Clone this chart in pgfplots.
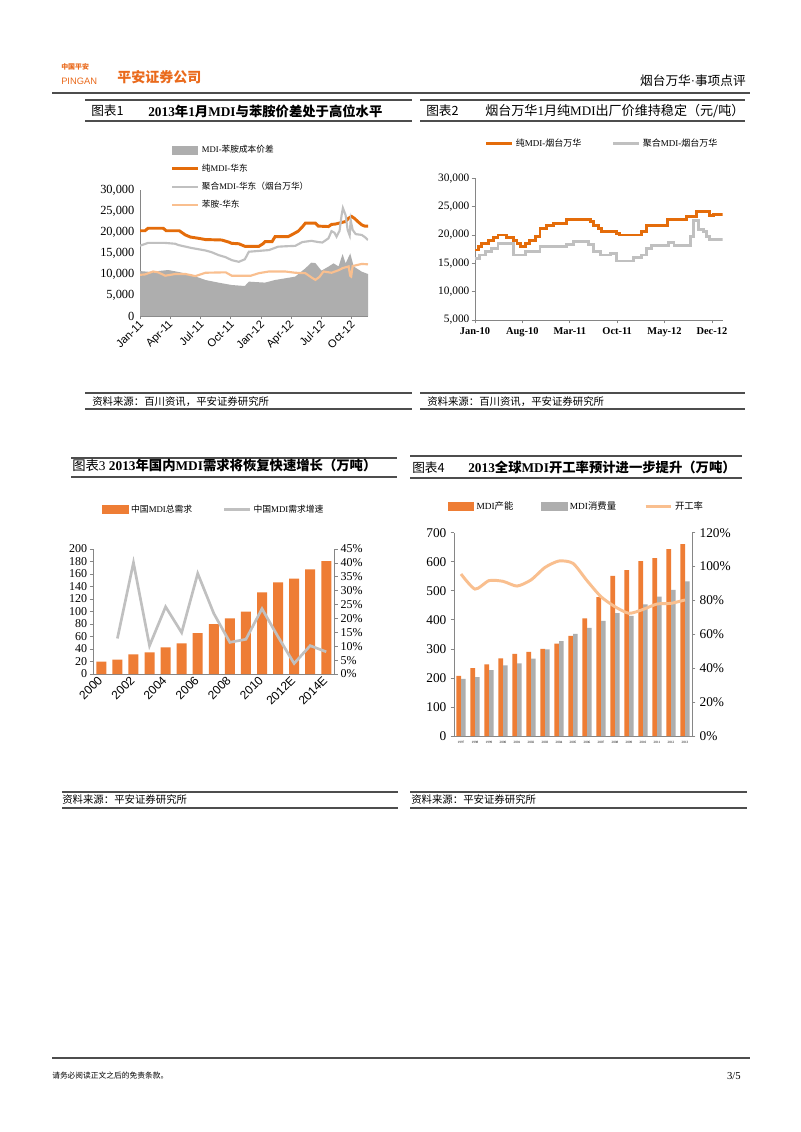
\documentclass[border=0pt]{standalone}
\usepackage{fontspec}
\setmainfont{Liberation Serif}
\setsansfont{Liberation Sans}
\newfontfamily\cjk{Noto Sans CJK SC}
\newcommand{\zh}[1]{{\cjk #1}}
\newcommand{\fs}[1]{\fontsize{#1}{#1}\selectfont}
\usepackage{pgfplots}
\pgfplotsset{compat=1.18}
\definecolor{pa}{HTML}{E46C0A}
\definecolor{ga}{HTML}{AEAEAE}
\definecolor{gl}{HTML}{C0C0C0}
\definecolor{pe}{HTML}{F9BF8F}
\definecolor{bo}{HTML}{EE7D35}
\definecolor{logo}{HTML}{EA6A1C}
\definecolor{ax}{HTML}{868686}
\definecolor{rl}{HTML}{4D4D4D}
\pgfplotsset{
  every axis/.append style={
    scale only axis, anchor=south west,
    /pgf/number format/assume math mode=true,
    /pgf/number format/1000 sep={,},
    scaled y ticks=false,
    axis line style={ax}, tick style={ax, line width=0.5pt},
    tick align=outside, major tick length=2.5pt,
    legend style={draw=none, fill=none, inner sep=0pt, outer sep=0pt,
      anchor=north west, legend cell align=left},
    legend image code/.code={\draw[#1] (0pt,0pt) -- (19pt,0pt);},
  },
}
\begin{document}
\begin{tikzpicture}
\begin{scope}[x=0.75pt,y=-0.75pt]
\fill[white] (0,0) rectangle (800,1132);
% header
\node[anchor=west, inner sep=0pt, text=logo, font=\cjk\bfseries\fs{5.2}] at (61,67) {中国平安};
\node[anchor=west, inner sep=0pt, text=logo, font=\sffamily\fs{7}] at (61,81) {PINGAN};
\node[anchor=west, inner sep=0pt, text=logo, font=\cjk\bfseries\fs{10.5}] at (117,77) {平安证券公司};
\node[anchor=east, inner sep=0pt, font=\cjk\fs{9.5}] at (746,81) {烟台万华{\rmfamily ·}事项点评};
\draw[rl, line width=1.5pt] (52,92.5) -- (750,92.5);
% chart 1 frame
\draw[rl, line width=1pt] (85,100) -- (412,100);
\draw[rl, line width=1.2pt] (85,121) -- (412,121);
\node[anchor=west, inner sep=0pt, font=\cjk\fs{9.5}] at (91,111) {图表1};
\node[anchor=west, inner sep=0pt, font=\bfseries\fs{10}] at (148,111) {2013\zh{年}1\zh{月}MDI\zh{与苯胺价差处于高位水平}};
\draw[rl, line width=1.2pt] (85,393) -- (412,393);
\draw[rl, line width=1pt] (85,409) -- (412,409);
\node[anchor=west, inner sep=0pt, font=\cjk\fs{7.8}] at (92,401.5) {资料来源：百川资讯，平安证券研究所};
% chart 2 frame
\draw[rl, line width=1pt] (420,100) -- (745,100);
\draw[rl, line width=1.2pt] (420,121) -- (745,121);
\node[anchor=west, inner sep=0pt, font=\cjk\fs{9.5}] at (426,111) {图表2};
\node[anchor=west, inner sep=0pt, font=\fs{9.8}] at (485,111) {\zh{烟台万华}1\zh{月纯}MDI\zh{出厂价维持稳定（元/吨）}};
\draw[rl, line width=1.2pt] (420,393) -- (745,393);
\draw[rl, line width=1pt] (420,409) -- (745,409);
\node[anchor=west, inner sep=0pt, font=\cjk\fs{7.8}] at (427,401.5) {资料来源：百川资讯，平安证券研究所};
% chart 3 frame
\draw[rl, line width=1pt] (71,458) -- (397,458);
\draw[rl, line width=1.2pt] (71,477) -- (397,477);
\node[anchor=west, inner sep=0pt, font=\fs{10}] at (72,465) {\zh{图表}3 \bfseries 2013\zh{年国内}MDI\zh{需求将恢复快速增长（万吨）}};
\draw[rl, line width=1.2pt] (62,792) -- (398,792);
\draw[rl, line width=1pt] (62,808) -- (398,808);
\node[anchor=west, inner sep=0pt, font=\cjk\fs{7.8}] at (62,800) {资料来源：平安证券研究所};
% chart 4 frame
\draw[rl, line width=1pt] (410,456) -- (742,456);
\draw[rl, line width=1.2pt] (410,478) -- (742,478);
\node[anchor=west, inner sep=0pt, font=\cjk\fs{9.5}] at (412,467.5) {图表4};
\node[anchor=west, inner sep=0pt, font=\bfseries\fs{10}] at (468,467.5) {2013\zh{全球}MDI\zh{开工率预计进一步提升（万吨）}};
\draw[rl, line width=1.2pt] (410,792) -- (747,792);
\draw[rl, line width=1pt] (410,808) -- (747,808);
\node[anchor=west, inner sep=0pt, font=\cjk\fs{7.8}] at (411,800) {资料来源：平安证券研究所};
% footer
\draw[rl, line width=1pt] (52,1058) -- (750,1058);
\node[anchor=west, inner sep=0pt, font=\cjk\fs{5.8}] at (52,1076) {请务必阅读正文之后的免责条款。};
\node[anchor=east, inner sep=0pt, font=\fs{8}] at (741,1076) {3/5};
% axis anchors
\coordinate (c1) at (140,316);
\coordinate (c2) at (475,320);
\coordinate (c3) at (93.3,674);
\coordinate (c4) at (454,736);
\end{scope}

% ---------- chart 1 ----------
\begin{axis}[at={(c1)}, width=171pt, height=94.5pt,
  xmin=0, xmax=22.62, ymin=0, ymax=30000,
  axis x line*=bottom, axis y line*=left,
  xtick={0,3,...,21},
  xticklabels={Jan-11,Apr-11,Jul-11,Oct-11,Jan-12,Apr-12,Jul-12,Oct-12},
  x tick label style={rotate=45, anchor=east, font=\sffamily\fs{8.3}, inner sep=1pt, yshift=-2.5pt},
  ytick={0,5000,...,30000}, y tick label style={font=\fs{9.3}, inner sep=1.5pt},
  major y tick style={draw=none},
  legend style={at={(0.136,1.373)}, font=\fs{6.5}, row sep=2.6pt},
]
\addplot[fill=ga, draw=none,
  legend image code/.code={\fill[ga] (0pt,-3.5pt) rectangle (19pt,3.5pt);}] coordinates {
(0,10700) (1.0,10500) (2.8,10950) (3.8,10500) (5.1,9760) (6.5,8570) (7.8,7940)
(9.1,7380) (10.4,7140) (10.8,8180) (12.4,7950) (13.4,8570) (14.4,8970) (15.4,9370)
(16.4,11350) (17.0,12700) (17.4,12600) (18.0,10800) (18.7,11750) (19.2,12540)
(19.7,11800) (20.1,14760) (20.4,12540) (20.86,14900) (21.2,11800) (22.0,10550) (22.62,10000)
} \closedcycle;
\addlegendentry{MDI-\zh{苯胺成本价差}}
\addplot[pa, line width=2.2pt] coordinates {
(0,20300) (0.5,20300) (0.8,20900) (2.3,20900) (2.6,20300) (3.9,20300) (4.5,19300)
(5.0,18800) (5.8,18500) (6.5,18200) (8.1,18100) (8.8,17600) (9.1,17300) (9.8,17200)
(10.4,16600) (11.8,16600) (12.2,17200) (12.4,17700) (13.1,17700) (13.4,18900)
(14.7,18900) (15.1,19400) (15.7,20200) (16.1,21200) (16.4,22100) (17.4,22100)
(17.7,21400) (18.7,21300) (19.0,21800) (19.4,21900) (19.9,22200) (20.4,22500)
(20.7,23300) (21.0,23700) (21.3,23200) (21.6,22500) (22.0,21700) (22.3,21400) (22.62,21400)
};
\addlegendentry{\zh{纯}MDI-\zh{华东}}
\addplot[gl, line width=1.6pt] coordinates {
(0,16750) (0.8,17400) (2.5,17400) (3.5,17200) (3.8,16900) (5.1,16200) (6.5,15600)
(7.1,15200) (7.8,14500) (8.5,14000) (9.1,13300) (9.8,12900) (10.4,13500) (10.8,15300)
(11.8,15500) (12.8,15700) (13.7,16500) (14.4,16600) (15.4,16700) (16.1,17600)
(17.0,17900) (17.7,17600) (18.1,17500) (18.7,18500) (19.0,20200) (19.3,19800)
(19.5,18900) (19.8,20300) (20.0,24000) (20.13,25700) (20.4,24000) (20.6,20500)
(20.8,19200) (20.9,22800) (21.1,20500) (21.4,19500) (22.0,19300) (22.3,18800) (22.62,18100)
};
\addlegendentry{\zh{聚合}MDI-\zh{华东（烟台万华）}}
\addplot[pe, line width=1.6pt] coordinates {
(0,9800) (0.5,9900) (1.3,10600) (1.8,10400) (2.5,9600) (3.5,10000) (4.5,10000)
(5.5,9500) (6.5,10300) (8.5,10400) (9.1,9600) (11.0,9600) (11.8,10200) (12.8,10600)
(14.4,10600) (15.4,10300) (16.4,10200) (17.0,9200) (17.4,8600) (17.8,9300) (18.2,10600)
(19.0,10300) (19.7,10900) (20.1,11400) (20.7,11800) (20.85,9600) (20.95,9400)
(21.1,11900) (22.0,12400) (22.62,12300)
};
\addlegendentry{\zh{苯胺-华东}}
\end{axis}

% ---------- chart 2 ----------
\begin{axis}[at={(c2)}, width=185.8pt, height=106.3pt,
  xmin=0, xmax=36.6, ymin=5000, ymax=30000,
  axis x line*=bottom, axis y line*=left,
  xtick={0,7,...,35},
  xticklabels={Jan-10,Aug-10,Mar-11,Oct-11,May-12,Dec-12},
  x tick label style={font=\bfseries\fs{7.8}},
  ytick={5000,10000,...,30000}, y tick label style={font=\fs{8.5}, inner sep=1.5pt},
  legend columns=2,
  legend style={at={(0.04,1.30)}, font=\fs{6.75},
    /tikz/every even column/.append style={column sep=21pt}},
]
\addplot[pa, line width=2.2pt, const plot] coordinates {
(0,17350) (0.5,17900) (1.0,18500) (2.0,19100) (2.7,19500) (3.4,20000) (4.7,19500)
(5.7,19000) (6.2,18500) (6.7,17900) (7.4,18500) (8.1,19100) (8.9,19700) (9.6,21200)
(10.6,21750) (11.6,21950) (13.5,22800) (16.5,22700) (17.0,22300) (17.5,21750)
(18.2,21200) (18.7,20600) (20.9,20200) (21.4,20000) (24.6,20600) (25.3,21750)
(28.5,22800) (31.3,23250) (32.7,24150) (34.7,23400) (35.2,23650) (36.6,23650)
};
\addlegendentry{\zh{纯}MDI-\zh{烟台万华}}
\addplot[gl, line width=2.2pt, const plot] coordinates {
(0,15880) (0.7,16470) (1.5,17060) (2.5,17650) (3.4,18530) (5.7,16470) (7.4,17060)
(9.6,17940) (13.5,18240) (14.5,18820) (16.7,18240) (17.5,17060) (18.5,16470)
(20.0,16760) (20.9,15410) (23.4,16000) (24.6,16470) (25.4,17650) (26.1,18120)
(28.6,18650) (29.4,18120) (31.8,19700) (32.3,22530) (33.0,21000) (33.7,20590)
(34.2,19700) (34.7,19230) (36.6,19230)
};
\addlegendentry{\zh{聚合}MDI-\zh{烟台万华}}
\end{axis}

% ---------- chart 3 ----------
\begin{axis}[at={(c3)}, width=180.75pt, height=93.75pt,
  xmin=-0.5, xmax=14.5, ymin=0, ymax=200,
  axis x line*=bottom, axis y line*=left,
  ybar, bar width=7.5pt,
  xtick={0,2,...,14},
  xticklabels={2000,2002,2004,2006,2008,2010,2012E,2014E},
  x tick label style={rotate=45, anchor=east, font=\sffamily\fs{9}, inner sep=1pt},
  major x tick style={draw=none},
  ytick={0,20,...,200}, y tick label style={font=\fs{9}, inner sep=2pt},
]
\addplot[fill=bo, draw=none] coordinates {
(0,20) (1,23) (2,31.5) (3,34.7) (4,42.7) (5,49) (6,65.6) (7,80) (8,89) (9,99.7)
(10,130.7) (11,146.7) (12,152.5) (13,167.5) (14,180.8)
};
\end{axis}
\begin{axis}[at={(c3)}, width=180.75pt, height=93.75pt,
  xmin=-0.5, xmax=14.5, ymin=0, ymax=45,
  axis y line*=right, axis x line=none,
  ytick={0,5,...,45}, yticklabel={\pgfmathprintnumber{\tick}\%},
  y tick label style={font=\fs{9}, inner sep=2pt},
  legend columns=2,
  legend style={at={(0.036,1.376)}, font=\fs{6.6},
    /tikz/every even column/.append style={column sep=21pt}},
]
\addlegendimage{legend image code/.code={\fill[bo] (0pt,-3pt) rectangle (19.5pt,3pt);}}
\addlegendentry{\zh{中国}MDI\zh{总需求}}
\addplot[gl, line width=2pt] coordinates {
(1,12.8) (2,40.1) (3,10.2) (4,24.2) (5,14.9) (6,36.2) (7,21.8) (8,11.4) (9,12.5)
(10,23.5) (11,13.4) (12,3.8) (13,10.2) (14,8.0)
};
\addlegendentry{\zh{中国}MDI\zh{需求增速}}
\end{axis}

% ---------- chart 4 ----------
\begin{axis}[at={(c4)}, width=178.5pt, height=152.5pt,
  xmin=-0.5, xmax=16.5, ymin=0, ymax=700,
  axis x line*=bottom, axis y line*=left,
  ybar=0pt, bar width=3.5pt,
  xtick={0,...,16},
  xticklabels={1997,1998,1999,2000,2001,2002,2003,2004,2005,2006,2007,2008,2009,2010,2011,2012,2013},
  x tick label style={font=\fs{2.5}, inner sep=1pt},
  major x tick style={draw=none},
  ytick={0,100,...,700}, y tick label style={font=\fs{10}, inner sep=3pt},
]
\addplot[fill=bo, draw=none] coordinates {
(0,207) (1,234) (2,247) (3,267) (4,283) (5,290) (6,300) (7,318) (8,345) (9,405)
(10,478) (11,551) (12,571) (13,602) (14,612) (15,643) (16,661)
};
\addplot[fill=ga, draw=none] coordinates {
(0,197) (1,203) (2,227) (3,243) (4,250) (5,266) (6,298) (7,327) (8,352) (9,372)
(10,396) (11,423) (12,414) (13,453) (14,480) (15,503) (16,532)
};
\end{axis}
\begin{axis}[at={(c4)}, width=178.5pt, height=152.5pt,
  xmin=-0.5, xmax=16.5, ymin=0, ymax=120,
  axis y line*=right, axis x line=none,
  ytick={0,20,...,120}, yticklabel={\pgfmathprintnumber{\tick}\%},
  y tick label style={font=\fs{10}, inner sep=3pt},
  legend columns=3,
  legend style={at={(-0.025,1.166)}, font=\fs{7},
    /tikz/every even column/.append style={column sep=19pt}},
]
\addlegendimage{legend image code/.code={\fill[bo] (0pt,-3pt) rectangle (19pt,3pt);}}
\addlegendentry{MDI\zh{产能}}
\addlegendimage{legend image code/.code={\fill[ga] (0pt,-3pt) rectangle (19pt,3pt);}}
\addlegendentry{MDI\zh{消费量}}
\addplot[pe, line width=2.2pt, smooth, tension=0.4] coordinates {
(0,95.6) (1,86.7) (2,91.7) (3,91.3) (4,88.5) (5,92.1) (6,99.5) (7,103.3) (8,101.9)
(9,91.7) (10,82.2) (11,76.3) (12,72.4) (13,74.7) (14,77.9) (15,78.3) (16,80.3)
};
\addlegendentry{\zh{开工率}}
\end{axis}
\end{tikzpicture}
\end{document}
